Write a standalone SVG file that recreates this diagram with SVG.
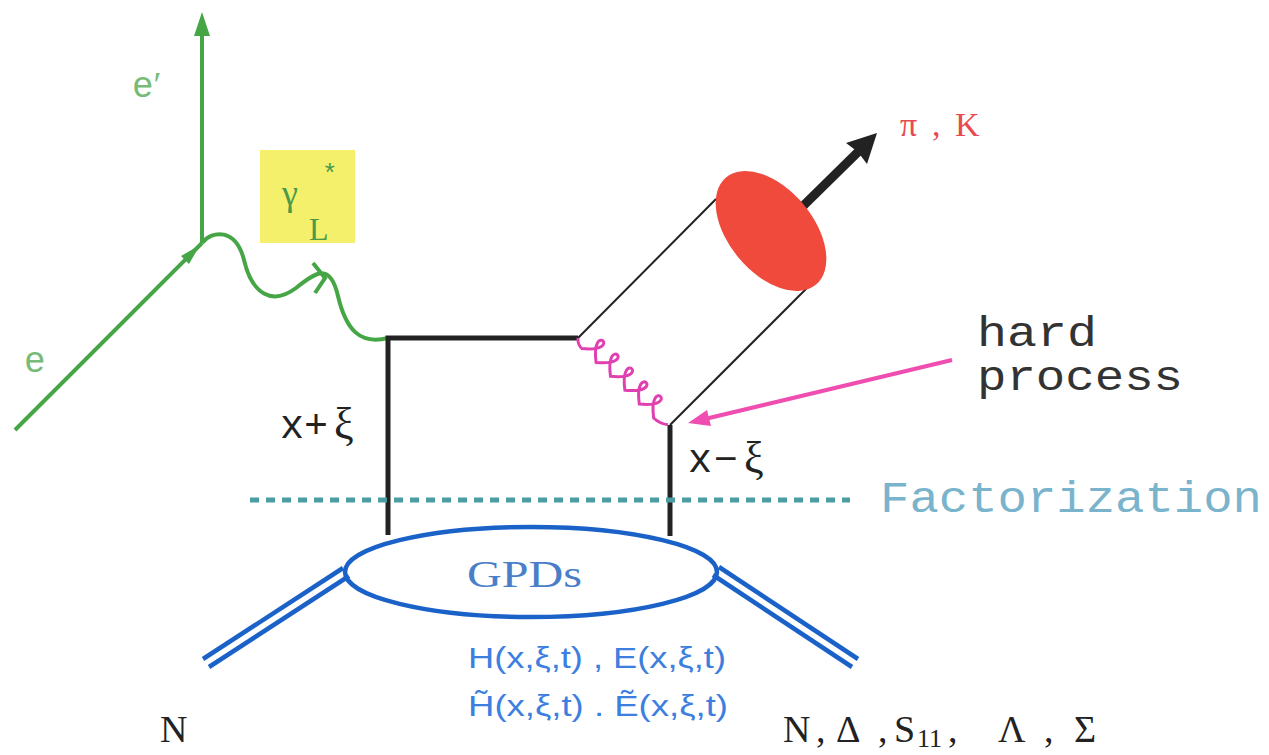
<svg xmlns="http://www.w3.org/2000/svg" width="1269" height="755" viewBox="0 0 1269 755">
<style>
.g{stroke:#46a646;stroke-width:4;fill:none}
.gl{fill:#76bb76;font-family:"Liberation Mono",monospace}
.k{stroke:#222;stroke-width:5;fill:none}
.q{stroke:#222;stroke-width:2;fill:none}
.b{stroke:#1a62c8;stroke-width:4.5;fill:none}
.m{font-family:"Liberation Mono","DejaVu Sans Mono",monospace}
.s{font-family:"Liberation Serif",serif}
.f{fill:#3d7fe0;font-family:"Liberation Sans",sans-serif;font-size:30px}
</style>
<rect width="1269" height="755" fill="#ffffff"/>
<g id="connectors">
  <line class="g" x1="15" y1="430" x2="202" y2="243"/>
  <polygon fill="#46a646" points="200,245 181,256 189,264"/>
  <line class="g" x1="202" y1="243" x2="202" y2="34"/>
  <polygon fill="#46a646" points="202,12 194,36 210,36"/>
  <path class="g" d="M202,243 C212,230 236,228 244,260 C252,294 272,306 296,288 C316,272 330,262 338,296 C346,330 360,345 388,338"/>
  <polyline class="g" stroke-width="3.5" points="313,263 325,278 315,293"/>
  <polyline class="k" points="388,535 388,338 578,338"/>
  <line class="k" x1="670" y1="425" x2="670" y2="536"/>
  <line class="q" x1="578" y1="338" x2="716" y2="199"/>
  <line class="q" x1="670" y1="425" x2="808" y2="287"/>
  <g transform="translate(578,338) rotate(44)">
    <path fill="none" stroke="#e040b0" stroke-width="3" d="M0,0 C4,5 8,5 10,5 C44,-22 -4,-22 30,5 C64,-22 16,-22 50,5 C84,-22 36,-22 70,5 C104,-22 56,-22 90,5 C124,-22 76,-22 110,5 C116,5 121,3 125,0"/>
  </g>
  <line stroke="#222" stroke-width="9" x1="800" y1="209" x2="860" y2="150"/>
  <polygon fill="#222" points="877,133 846,143 858,152 867,164"/>
  <line stroke="#ef4db0" stroke-width="4" x1="952" y1="360" x2="705" y2="419"/>
  <polygon fill="#ef4db0" points="688,423 711,426 707,410"/>
  <line stroke="#4a9ea0" stroke-width="5" stroke-dasharray="9 7" x1="250" y1="500" x2="850" y2="500"/>
  <line class="b" x1="343" y1="568" x2="203" y2="659"/>
  <line class="b" x1="349" y1="576" x2="209" y2="667"/>
  <line class="b" x1="719" y1="567" x2="858" y2="659"/>
  <line class="b" x1="713" y1="575" x2="852" y2="667"/>
</g>
<g id="electron-labels">
  <text class="gl" x="132" y="97" font-size="36">e<tspan font-family="'Liberation Serif',serif">′</tspan></text>
  <text class="gl" x="24" y="372" font-size="36">e</text>
</g>
<g id="photon-label">
  <rect x="260" y="150" width="95" height="93" fill="#f4f06c"/>
  <text x="282" y="205" font-size="36" fill="#4a9a4a" class="s">γ</text>
  <text x="322" y="182" font-size="26" fill="#4a9a4a" class="m">*</text>
  <text x="309" y="240" font-size="32" fill="#4a9a4a" class="s">L</text>
</g>
<g id="meson">
  <ellipse cx="771" cy="231" rx="70" ry="42" transform="rotate(50 771 231)" fill="#f04a3c"/>
  <text x="900" y="136" class="s" font-size="34" fill="#e84a50"><tspan x="900">π</tspan><tspan x="932">,</tspan><tspan x="955">K</tspan></text>
</g>
<g id="hard-process">
  <text x="977" y="346" class="m" font-size="42" fill="#333" textLength="120" lengthAdjust="spacingAndGlyphs">hard</text>
  <text x="977" y="390" class="m" font-size="42" fill="#333" textLength="206" lengthAdjust="spacingAndGlyphs">process</text>
</g>
<g id="factorization">
  <text x="880" y="512" class="m" font-size="44" fill="#7ab4cc" textLength="382" lengthAdjust="spacingAndGlyphs">Factorization</text>
</g>
<g id="momenta">
  <text x="280" y="438" class="m" font-size="40" fill="#222">x+<tspan class="s" font-size="44" dx="6">ξ</tspan></text>
  <text x="688" y="472" class="m" font-size="40" fill="#222">x<tspan dx="2">−</tspan><tspan class="s" font-size="44" dx="6">ξ</tspan></text>
</g>
<g id="gpds">
  <ellipse class="b" cx="531" cy="572" rx="186" ry="45"/>
  <text x="467" y="587" class="s" font-size="38" fill="#4a7ec8" textLength="115" lengthAdjust="spacingAndGlyphs">GPDs</text>
  <text x="468" y="668" class="f" textLength="258" lengthAdjust="spacingAndGlyphs">H(x,ξ,t) , E(x,ξ,t)</text>
  <text x="468" y="716" class="f" textLength="260" lengthAdjust="spacingAndGlyphs">H̃(x,ξ,t) . Ẽ(x,ξ,t)</text>
</g>
<g id="nucleons">
  <text x="160" y="742" class="s" font-size="38" fill="#222">N</text>
  <text y="742" class="s" font-size="38" fill="#222"><tspan x="783">N</tspan><tspan x="816">,</tspan><tspan x="836">Δ</tspan><tspan x="878">,</tspan><tspan x="894">S</tspan><tspan x="917" font-size="26" dy="5">11</tspan><tspan x="948" dy="-5">,</tspan><tspan x="998">Λ</tspan><tspan x="1044">,</tspan><tspan x="1074">Σ</tspan></text>
</g>
</svg>
